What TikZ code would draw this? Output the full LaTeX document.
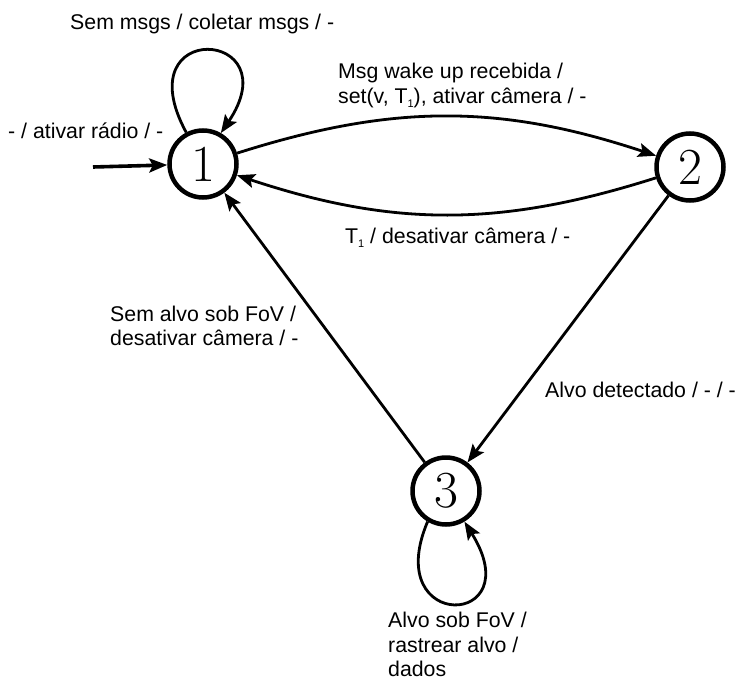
\documentclass[tikz,border=0pt]{standalone}
\usepackage{fontspec}
\newfontfamily\labelfont{Liberation Sans}
\usetikzlibrary{arrows.meta}
\newcommand{\sub}[1]{{\fontsize{11}{11}\selectfont\raisebox{-4pt}{#1}}}
\tikzset{
  state/.style={draw, circle, line width=4.5pt, minimum size=67pt, inner sep=0pt,
    font=\fontsize{52}{52}\selectfont},
  edge/.style={line width=2.8pt, -{Stealth[length=18pt,width=14pt,inset=3.5pt]}},
  lbl/.style={font=\labelfont\fontsize{21.3}{26}\selectfont, inner sep=0pt, align=left},
}
\begin{document}
\begin{tikzpicture}[x=1pt,y=1pt]
\useasboundingbox (0,0) rectangle (737,-680);
\node[state] (n1) at (203,-164) {1};
\node[state] (n2) at (690,-167) {2};
\node[state] (n3) at (446,-491) {3};
\coordinate (init) at (93,-167);

\draw[edge, line width=3.6pt] (init) -- (n1);
\draw[edge] (n1) to[bend left=18] (n2);
\draw[edge] (n2) to[bend left=18] (n1);
\draw[edge] (n2) -- (n3);
\draw[edge] (n3) -- (n1);
\draw[edge] (n1.118) .. controls +(118.5:130) and +(56:126) .. (n1.60);
\draw[edge] (n3.239) .. controls +(247:121) and +(302:126) .. (n3.301);

\node[lbl, anchor=base west] (l1) at (70,-30) {Sem msgs / coletar msgs / -};
\node[lbl, anchor=base west] (l2) at (8,-138) {- / ativar rádio / -};
\node[lbl, anchor=base west] (l3) at (338,-78) {Msg wake up recebida /};
\node[lbl, anchor=base west] (l4) at (338,-103) {set(v, T\sub{1}), ativar câmera / -};
\node[lbl, anchor=base west] (l5) at (345,-243) {T\sub{1} / desativar câmera / -};
\node[lbl, anchor=base west] (l6) at (110,-321) {Sem alvo sob FoV /};
\node[lbl, anchor=base west] (l7) at (110,-345) {desativar câmera / -};
\node[lbl, anchor=base west] (l8) at (545,-397) {Alvo detectado / - / -};
\node[lbl, anchor=base west] (l9) at (388,-627) {Alvo sob FoV /};
\node[lbl, anchor=base west] (l10) at (388,-652) {rastrear alvo /};
\node[lbl, anchor=base west] (l11) at (388,-676) {dados};
\end{tikzpicture}
\end{document}
